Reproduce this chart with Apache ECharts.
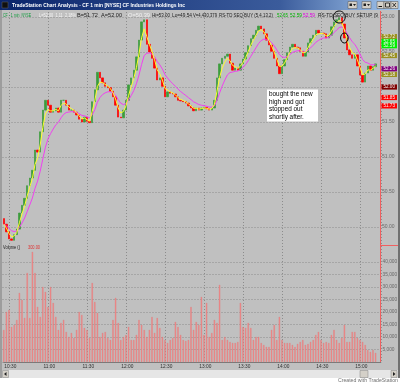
<!DOCTYPE html>
<html>
<head>
<meta charset="utf-8">
<script src="https://cdn.jsdelivr.net/npm/echarts@6.0.0/dist/echarts.min.js"></script>
<style>
html,body{margin:0;padding:0;background:#ffffff;overflow:hidden}
#chart{width:400px;height:384px}
</style>
</head>
<body>
<div id="chart"></div>
<script>
// ---------------- data ----------------
const sessionStart = '10:26';
const barMinutes = 2;
const categoryCount = 145;
const timeLabels = ['10:30','11:00','11:30','12:00','12:30','13:00','13:30','14:00','14:30','15:00'];
const firstOpen = 50.12;
const closes = [
  50.04,49.93,49.83,49.81,49.89,49.97,50.20,50.31,50.41,50.59,
  50.70,50.81,51.10,51.07,51.36,51.67,51.81,51.74,51.64,51.66,
  51.70,51.64,51.81,51.81,51.74,51.67,51.67,51.64,51.60,51.54,
  51.50,51.57,51.51,51.49,51.79,51.96,52.21,52.13,52.06,52.01,
  51.99,51.94,51.86,51.74,51.57,51.56,51.67,51.81,52.03,52.13,
  52.24,52.43,52.67,52.93,52.96,52.61,52.50,52.41,52.27,52.10,
  52.13,52.01,51.86,51.93,51.91,51.90,51.86,51.81,51.80,51.79,
  51.77,51.73,51.70,51.66,51.70,51.67,51.70,51.71,51.69,51.67,
  51.70,51.81,52.13,52.33,52.41,52.44,52.47,52.34,52.24,52.27,
  52.24,52.33,52.40,52.49,52.59,52.69,52.74,52.81,52.87,52.83,
  52.76,52.67,52.60,52.51,52.41,52.30,52.19,52.30,52.39,52.49,
  52.57,52.61,52.57,52.56,52.51,52.44,52.50,52.63,52.69,52.74,
  52.81,52.77,52.77,52.76,52.70,52.74,52.86,52.93,52.96,52.99,
  52.90,52.70,52.53,52.46,52.41,52.46,52.30,52.17,52.07,52.20,
  52.30,52.24,52.29,52.33
];
const volumes = [
  12800,20000,20800,14000,14800,16800,27600,24800,17600,35600,
  17600,44000,35600,22000,18000,30000,28000,22000,30000,23600,
  18000,12800,15600,16800,12000,10000,11600,9600,12800,20000,
  18800,13600,12800,9600,31600,24000,19600,10000,11600,12000,
  9600,8800,16800,25600,15600,8800,10000,10800,14000,8800,
  8800,10800,16800,14800,12800,10000,12800,18000,11600,17600,
  13600,10000,8800,7600,8800,9600,16000,14000,10800,8800,
  8400,8800,22000,12800,16000,14800,26000,10800,23600,10000,
  11600,16800,15600,30800,8800,10000,8800,8000,7600,7600,
  8000,23600,14000,13600,15600,13600,8800,10000,10000,7600,
  6800,6000,6000,12800,14800,8800,18000,8800,7600,7600,
  7600,6800,6000,7200,8000,8800,6800,7200,8000,8800,
  10800,12000,8800,7600,8000,7600,10800,12800,8800,7600,
  9600,14800,8000,8000,12000,12000,9600,8800,8000,6800,
  4800,4000,4800,3600
];
const priceMin = 50, priceMax = 53, priceStep = 0.5;
const volumeMin = 0, volumeMax = 40000, volumeStep = 5000;
const markerPrices = [52.72, 52.65, 52.59, 52.45, 52.26, 52.18, 52.00, 51.85, 51.73];
const fastPeriod = 3, slowPeriod = 9;
const circledPoints = [[129, 53.00], [131, 52.70]];
const titleText = 'TradeStation Chart Analysis - CF 1 min [NYSE] CF Industries Holdings Inc';
const infoTexts = ['CF - 1 min  NYSE', 'L=52.00  1.11  2.18%', 'B=51.72  A=52.00', 'O=50.39', 'Hi=53.00',
  'Lo=49.54', 'V=4,430,379', 'RS-TD SEQ BUY (5,4,13,2)', '52.65', '52.59', '52.59', 'RS-TD SEQ BUY SETUP (9'];
const noteLines = ['bought the new', 'high and got', 'stopped out', 'shortly after.'];
const volumeLegend = ['Volume ()', '300.00'];
const creditText = 'Created with TradeStation';

// ---------------- styles ----------------
const markerColors = ['#9a9020','#00ee00','#00ee00','#9a9020','#800080','#9a9020','#800000','#ff0000','#ff0000'];
const infoSpans = [[3,31],[39,76],[77,122],[128,150],[152,170],[172,192],[193,217],[219,273],[277,288],[290,302],[303,315],[318,378]];
const infoColors = ['#109a3c','#f4f4f4','#202020','#f0f0f0','#202020','#202020','#202020','#202020','#00b000','#00b000','#e000e0','#202020'];
const FONT = '"Liberation Sans", Arial, sans-serif';
const gridColor = '#8c8c8c';

// ---------------- derived ----------------
const categories = [];
const [h0, m0] = sessionStart.split(':').map(Number);
for (let i = 0; i < categoryCount; i++) {
  const t = h0 * 60 + m0 + i * barMinutes;
  categories.push(Math.floor(t / 60) + ':' + String(t % 60).padStart(2, '0'));
}
const candles = closes.map((c, i) => {
  const o = i === 0 ? firstOpen : closes[i - 1];
  return [o, c, Math.min(o, c), Math.max(o, c)];
});
function ema(vals, n) {
  const k = 2 / (n + 1); let e = vals[0];
  return vals.map((v, i) => { e = i === 0 ? v : e + k * (v - e); return +e.toFixed(3); });
}
const emaFast = ema(closes, fastPeriod);
const emaSlow = ema(closes, slowPeriod);
const isTimeLabel = (idx, val) => timeLabels.indexOf(val) >= 0;

const chart = echarts.init(document.getElementById('chart'), null, { renderer: 'canvas' });
const gridLeft = 2.5, gridWidth = 377;

chart.setOption({
  animation: false,
  backgroundColor: '#c0c0c0',
  grid: [
    { left: gridLeft + 1.3, top: 12, width: gridWidth, height: 350, outerBoundsMode: 'none', containLabel: false },
    { left: gridLeft, top: 17, width: gridWidth, height: 210, outerBoundsMode: 'none', containLabel: false },
    { left: gridLeft, top: 262, width: gridWidth, height: 100, outerBoundsMode: 'none', containLabel: false }
  ],
  xAxis: [
    { type: 'category', gridIndex: 0, data: categories, boundaryGap: true,
      axisLine: { show: true, lineStyle: { color: '#7a7a7a', width: 1 } },
      axisTick: { show: false },
      axisLabel: { interval: isTimeLabel, fontSize: 4.8, fontFamily: FONT, color: '#303030', margin: 2, hideOverlap: false },
      splitLine: { show: true, interval: isTimeLabel, lineStyle: { color: gridColor, width: 1, type: [1, 2] } } },
    { type: 'category', gridIndex: 1, data: categories, boundaryGap: true, show: false },
    { type: 'category', gridIndex: 2, data: categories, boundaryGap: true, show: false }
  ],
  yAxis: [
    { type: 'value', gridIndex: 0, show: false, min: 0, max: 1 },
    { type: 'value', gridIndex: 1, position: 'right', min: priceMin, max: priceMax, interval: priceStep, scale: true,
      axisLine: { show: false }, axisTick: { show: false },
      axisLabel: { fontSize: 5, fontFamily: FONT, color: '#6a6a6a', margin: 2.5, formatter: v => v.toFixed(2), hideOverlap: false },
      splitLine: { show: true, lineStyle: { color: gridColor, width: 1, type: [1, 2] } } },
    { type: 'value', gridIndex: 2, position: 'right', min: volumeMin, max: volumeMax, interval: volumeStep,
      axisLine: { show: false }, axisTick: { show: false },
      axisLabel: { fontSize: 4.8, fontFamily: FONT, color: '#6a6a6a', margin: 3,
        formatter: v => v === 0 ? '' : v.toLocaleString('en-US'), hideOverlap: false },
      splitLine: { show: true, lineStyle: { color: gridColor, width: 1, type: [1, 2] } } }
  ],
  series: [
    { type: 'bar', xAxisIndex: 2, yAxisIndex: 2, data: volumes, barWidth: 1.2, clip: false,
      itemStyle: { color: '#f28a8a', borderColor: '#e86a6a', borderWidth: 0.3 }, silent: true },
    { type: 'candlestick', xAxisIndex: 1, yAxisIndex: 1, data: candles, barWidth: 2.0, clip: false,
      itemStyle: { color: '#3c9c3c', color0: '#ff0000', borderColor: '#3c9c3c', borderColor0: '#ff0000', borderWidth: 0.7 },
      silent: true },
    { type: 'line', xAxisIndex: 1, yAxisIndex: 1, data: emaSlow, showSymbol: false, clip: false, silent: true,
      lineStyle: { color: '#f040f0', width: 1 } },
    { type: 'line', xAxisIndex: 1, yAxisIndex: 1, data: emaFast, showSymbol: false, clip: false, silent: true,
      lineStyle: { color: '#ffff30', width: 1 } }
  ]
});

// ---------------- decorations ----------------
const mctx = document.createElement('canvas').getContext('2d');
function fitText(text, x0, x1, y, font, color, z) {
  mctx.font = font;
  const w = mctx.measureText(text).width || 1;
  return { type: 'text', x: x0, y: y, scaleX: (x1 - x0) / w, z: z || 60,
    style: { text: text, x: 0, y: 0, font: font, fill: color, textAlign: 'left', textVerticalAlign: 'middle' } };
}
const g = [];
// title bar
g.push({ type: 'rect', z: 50, shape: { x: 0, y: 0, width: 400, height: 10 },
  style: { fill: new echarts.graphic.LinearGradient(0, 0, 1, 0, [
    { offset: 0, color: '#0a246a' }, { offset: 0.7, color: '#3b5c9c' }, { offset: 1, color: '#a6caf0' }]) } });
g.push({ type: 'rect', z: 51, shape: { x: 2, y: 2, width: 6, height: 6 }, style: { fill: '#101010', stroke: '#606060', lineWidth: 0.5 } });
g.push(fitText(titleText, 12, 185, 5.2, 'bold 6px ' + FONT, '#ffffff', 52));
[[348, 9], [362, 9], [377, 7], [384, 7], [391, 7]].forEach(([bx, bw]) => {
  g.push({ type: 'rect', z: 51, shape: { x: bx, y: 1.5, width: bw, height: 7 },
    style: { fill: '#d4d0c8', stroke: '#505050', lineWidth: 0.5 } });
});
g.push({ type: 'rect', z: 52, shape: { x: 349.5, y: 3.5, width: 2.5, height: 2.5 }, style: { fill: '#202020' } });
g.push({ type: 'rect', z: 52, shape: { x: 363.5, y: 3.5, width: 2.5, height: 2.5 }, style: { fill: '#202020' } });
g.push({ type: 'polygon', z: 52, shape: { points: [[353, 4], [356, 4], [354.5, 6]] }, style: { fill: '#202020' } });
g.push({ type: 'polygon', z: 52, shape: { points: [[367, 4], [370, 4], [368.5, 6]] }, style: { fill: '#202020' } });
g.push({ type: 'line', z: 52, shape: { x1: 378.5, y1: 6.5, x2: 382, y2: 6.5 }, style: { stroke: '#101010', lineWidth: 1 } });
g.push({ type: 'rect', z: 52, shape: { x: 385.5, y: 3, width: 4, height: 4 }, style: { fill: 'none', stroke: '#101010', lineWidth: 0.8 } });
g.push({ type: 'line', z: 52, shape: { x1: 392.5, y1: 3, x2: 396, y2: 7 }, style: { stroke: '#101010', lineWidth: 0.8 } });
g.push({ type: 'line', z: 52, shape: { x1: 396, y1: 3, x2: 392.5, y2: 7 }, style: { stroke: '#101010', lineWidth: 0.8 } });
// info line
infoTexts.forEach((t, i) => g.push(fitText(t, infoSpans[i][0], infoSpans[i][1], 15, '6px ' + FONT, infoColors[i], 60)));
// frame lines
g.push({ type: 'line', z: 55, shape: { x1: 1, y1: 10, x2: 1, y2: 378 }, style: { stroke: '#7a7a7a', lineWidth: 1 } });
g.push({ type: 'rect', z: 55, shape: { x: 398, y: 10, width: 2, height: 368 }, style: { fill: '#707070' } });
g.push({ type: 'line', z: 55, shape: { x1: 380.5, y1: 11, x2: 380.5, y2: 362 }, style: { stroke: '#f06060', lineWidth: 1 } });
g.push({ type: 'line', z: 55, shape: { x1: 380, y1: 245.5, x2: 398, y2: 245.5 }, style: { stroke: '#f06060', lineWidth: 1 } });
// volume legend
g.push(fitText(volumeLegend[0], 3, 20, 248, '5px ' + FONT, '#202020', 60));
g.push(fitText(volumeLegend[1], 28, 40, 248, '5px ' + FONT, '#e03030', 60));
// scrollbar + bottom
g.push({ type: 'rect', z: 50, shape: { x: 2, y: 370, width: 396, height: 8 }, style: { fill: '#e6e6e6' } });
[[2.5, 6], [391, 6], [360, 8]].forEach(([bx, bw]) => {
  g.push({ type: 'rect', z: 51, shape: { x: bx, y: 370.5, width: bw, height: 7 }, style: { fill: '#d4d0c8', stroke: '#808080', lineWidth: 0.5 } });
});
g.push({ type: 'polygon', z: 52, shape: { points: [[6.5, 372], [6.5, 376], [4, 374]] }, style: { fill: '#202020' } });
g.push({ type: 'polygon', z: 52, shape: { points: [[393, 372], [393, 376], [395.5, 374]] }, style: { fill: '#202020' } });
g.push({ type: 'rect', z: 50, shape: { x: 0, y: 378, width: 400, height: 6 }, style: { fill: '#ffffff' } });
g.push({ type: 'text', z: 60, x: 398, y: 381,
  style: { text: creditText, font: '5.2px ' + FONT, fill: '#707070', textAlign: 'right', textVerticalAlign: 'middle' } });
// price markers on the axis
markerPrices.forEach((p, i) => {
  const y = chart.convertToPixel({ yAxisIndex: 1 }, p);
  g.push({ type: 'rect', z: 70, shape: { x: 381.5, y: y - 2.6, width: 15.5, height: 5.2 }, style: { fill: markerColors[i] } });
  g.push({ type: 'text', z: 71, x: 389.2, y: y,
    style: { text: p.toFixed(2), font: '4.6px ' + FONT, fill: '#f4f4f4', textAlign: 'center', textVerticalAlign: 'middle' } });
});
// circles
circledPoints.forEach((cp, i) => {
  const [cx, cy] = chart.convertToPixel({ xAxisIndex: 1, yAxisIndex: 1 }, cp);
  g.push({ type: 'ellipse', z: 80, shape: { cx: cx, cy: cy, rx: i === 0 ? 6 : 3.8, ry: i === 0 ? 6 : 5 },
    style: { fill: 'none', stroke: '#000000', lineWidth: 1 } });
});
// note box
g.push({ type: 'rect', z: 80, shape: { x: 267, y: 89.5, width: 51, height: 32 }, style: { fill: '#ffffff' } });
noteLines.forEach((t, i) => {
  g.push({ type: 'text', z: 81, x: 269, y: 94.5 + i * 7.6,
    style: { text: t, font: '6.4px ' + FONT, fill: '#000000', textAlign: 'left', textVerticalAlign: 'middle' } });
});
chart.setOption({ graphic: { elements: g } });
</script>
</body>
</html>
